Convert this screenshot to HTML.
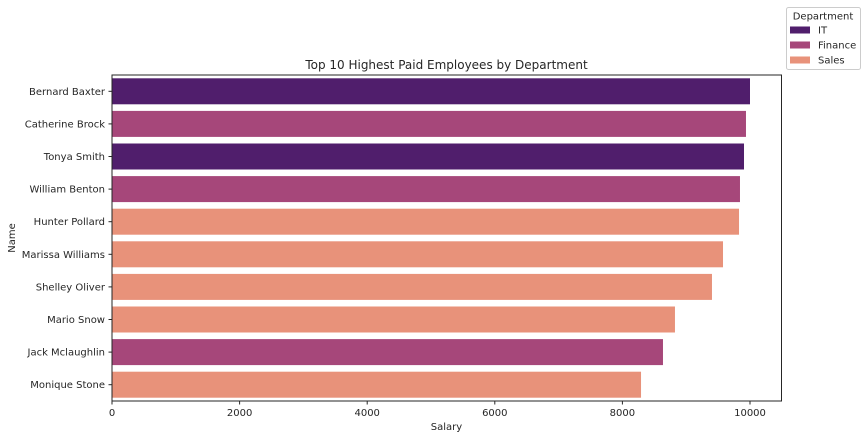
<!DOCTYPE html>
<html><head><meta charset="utf-8"><style>
body{margin:0;background:#fff;font-family:"Liberation Sans","DejaVu Sans",sans-serif}
</style></head><body>
<svg id="chart" width="868" height="439" xmlns="http://www.w3.org/2000/svg" font-family="DejaVu Sans, Liberation Sans, sans-serif">
<text x="446.5" y="69" text-anchor="middle" font-size="12" fill="#262626">Top 10 Highest Paid Employees by Department</text>
<g id="bars"></g>
<g id="yticks"></g>
<g id="xticks"></g>
<rect x="112" y="75" width="669.5" height="326" fill="none" stroke="#262626" stroke-width="1"/>
<text x="446.5" y="430" text-anchor="middle" font-size="10" fill="#262626">Salary</text>
<text transform="translate(15,238) rotate(-90)" text-anchor="middle" font-size="10" fill="#262626">Name</text>
<g>
<rect x="786.5" y="7.5" width="74" height="62" fill="#fff" stroke="#ccc" rx="2"/>
<text x="823" y="19.5" text-anchor="middle" font-size="10" fill="#262626">Department</text>
<g id="legend-items"></g>
</g>
</svg>
<script>
const names=["Bernard Baxter","Catherine Brock","Tonya Smith","William Benton","Hunter Pollard","Marissa Williams","Shelley Oliver","Mario Snow","Jack Mclaughlin","Monique Stone"];
const salaries=[10000,9937,9906,9843,9828,9577,9404,8824,8636,8292];
const departments=["IT","Finance","IT","Finance","Sales","Sales","Sales","Sales","Finance","Sales"];
const deptList=["IT","Finance","Sales"];
const xTicks=[0,2000,4000,6000,8000,10000];
const colors={IT:"#501e6c",Finance:"#a6477a",Sales:"#e8927a"};
const NS="http://www.w3.org/2000/svg";
const x0=112,xPer=(750-112)/10000,plotTop=75,band=32.6;
const xs=v=>x0+v*xPer;
function mk(tag,attrs,parent,txt){const e=document.createElementNS(NS,tag);for(const k in attrs)e.setAttribute(k,attrs[k]);if(txt!==undefined)e.textContent=txt;parent.appendChild(e);return e;}
const bars=document.getElementById('bars'),yt=document.getElementById('yticks'),xt=document.getElementById('xticks');
names.forEach((n,i)=>{
 const cy=plotTop+band*(i+0.5);
 const r=mk('rect',{x:xs(0),y:cy-13,width:xs(salaries[i])-xs(0),height:26,fill:colors[departments[i]]},bars);
 
 
 mk('line',{x1:108.5,x2:112,y1:cy,y2:cy,stroke:'#262626'},yt);
 const t=mk('text',{x:105,y:cy+3.5,'text-anchor':'end','font-size':10,fill:'#262626'},yt,n);
 
 
});
xTicks.forEach(v=>{
 const x=xs(v);
 mk('line',{x1:x,x2:x,y1:401,y2:404.5,stroke:'#262626'},xt);
 const t=mk('text',{x:x,y:416,'text-anchor':'middle','font-size':10,fill:'#262626'},xt,v);
 
 
});
const li=document.getElementById('legend-items');
deptList.forEach((d,i)=>{
 const y=30+i*15;
 const r=mk('rect',{x:790,y:y-3.5,width:20,height:7,fill:colors[d]},li);
 
 
 const t=mk('text',{x:818,y:y+3.5,'font-size':10,fill:'#262626'},li,d);
 
 
});
</script>
</body></html>
